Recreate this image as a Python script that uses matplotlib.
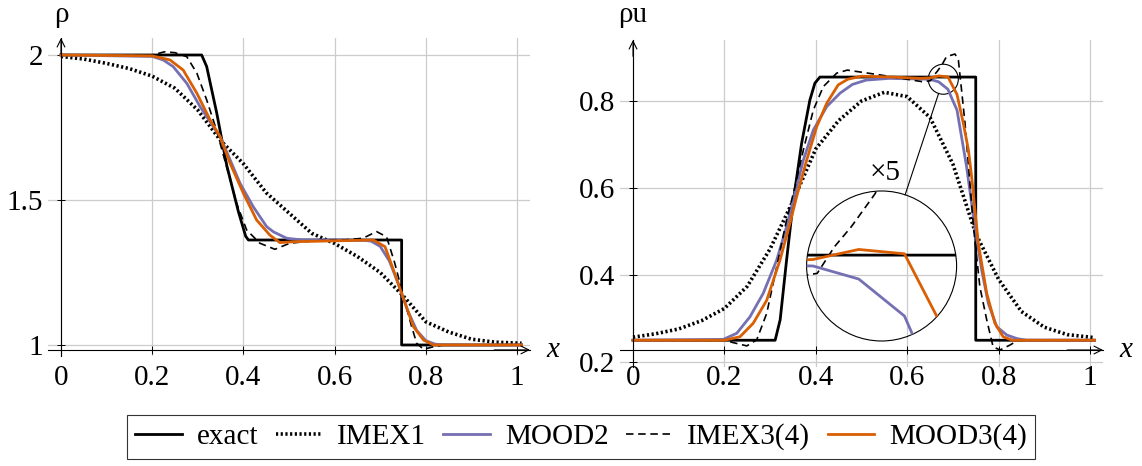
import numpy as np
import matplotlib
matplotlib.use("Agg")
import matplotlib.pyplot as plt
import matplotlib.transforms as mtransforms
from matplotlib.patches import Ellipse

plt.rcParams['font.family'] = ['Liberation Serif', 'DejaVu Serif']

# ---- density (left panel) ----
x_ex_rho = [0, 0.3085, 0.3195, 0.3415, 0.3634, 0.389, 0.405, 0.411, 0.747, 0.747, 1.01]
rho_ex = [2.0, 2.0, 1.96, 1.80, 1.62, 1.46, 1.375, 1.362, 1.362, 1.0, 1.0]

x_imex1_rho = [0, 0.05, 0.1, 0.15, 0.2, 0.25, 0.3, 0.35, 0.4, 0.45, 0.5, 0.55,
               0.6, 0.65, 0.7, 0.75, 0.8, 0.85, 0.9, 0.95, 1.01]
rho_imex1 = [1.995, 1.986, 1.971, 1.953, 1.927, 1.885, 1.81, 1.705, 1.625, 1.525, 1.455, 1.385,
             1.35, 1.305, 1.25, 1.17, 1.08, 1.045, 1.02, 1.01, 1.006]

x_imex3_rho = [0, 0.2, 0.227, 0.25, 0.276, 0.298, 0.3195, 0.341, 0.363, 0.385, 0.407, 0.436,
               0.469, 0.502, 0.553, 0.62, 0.662, 0.692, 0.714, 0.732, 0.751, 0.769, 0.78,
               0.795, 0.817, 0.84, 1.01]
rho_imex3 = [2.0, 2.0, 2.011, 2.008, 1.994, 1.937, 1.845, 1.741, 1.615, 1.489, 1.397, 1.351,
             1.33, 1.351, 1.359, 1.362, 1.368, 1.391, 1.373, 1.282, 1.167, 1.063, 1.006,
             0.985, 0.994, 1.0, 1.0]

x_mood2_rho = [0, 0.2, 0.224, 0.246, 0.276, 0.305, 0.334, 0.349, 0.371, 0.3925, 0.4215, 0.451,
               0.466, 0.495, 0.53, 0.66, 0.68, 0.70, 0.72, 0.74, 0.76, 0.78, 0.80, 0.82, 0.84, 1.01]
rho_mood2 = [2.0, 1.995, 1.983, 1.96, 1.902, 1.822, 1.753, 1.718, 1.638, 1.558, 1.477, 1.408,
             1.39, 1.368, 1.362, 1.362, 1.358, 1.34, 1.29, 1.21, 1.12, 1.05, 1.015, 1.003, 1.0, 1.0]

x_mood3_rho = [0, 0.2, 0.239, 0.268, 0.298, 0.327, 0.349, 0.371, 0.4, 0.429, 0.458, 0.48, 0.509,
               0.685, 0.7105, 0.729, 0.751, 0.773, 0.795, 0.817, 1.01]
rho_mood3 = [2.0, 1.997, 1.983, 1.948, 1.868, 1.776, 1.718, 1.626, 1.523, 1.431, 1.379, 1.353, 1.356,
             1.362, 1.339, 1.259, 1.16, 1.063, 1.017, 1.0, 1.0]

# ---- momentum (right panel) ----
x_ex_mom = [0, 0.311, 0.322, 0.336, 0.351, 0.369, 0.387, 0.398, 0.409, 0.75, 0.75, 1.01]
mom_ex = [0.25, 0.25, 0.297, 0.434, 0.572, 0.703, 0.802, 0.841, 0.855, 0.855, 0.25, 0.25]

x_imex1_mom = [0, 0.05, 0.1, 0.15, 0.2, 0.25, 0.3, 0.35, 0.4, 0.45, 0.5, 0.55,
               0.6, 0.65, 0.7, 0.75, 0.8, 0.85, 0.9, 0.95, 1.01]
mom_imex1 = [0.257, 0.265, 0.276, 0.295, 0.323, 0.374, 0.46, 0.57, 0.69, 0.755, 0.80, 0.82,
             0.81, 0.762, 0.655, 0.495, 0.39, 0.316, 0.28, 0.263, 0.256]

x_imex3_mom = [0, 0.2, 0.2195, 0.249, 0.2707, 0.2926, 0.3145, 0.336, 0.3545, 0.3727, 0.3945,
               0.4164, 0.4457, 0.469, 0.54, 0.60, 0.635, 0.6508, 0.6584, 0.6657, 0.676, 0.686,
               0.7046, 0.712, 0.719, 0.7265, 0.745, 0.759, 0.774, 0.788, 0.803, 0.825, 0.8425, 1.01]
mom_imex3 = [0.25, 0.25, 0.2445, 0.237, 0.251, 0.312, 0.419, 0.5264, 0.603, 0.687, 0.779,
             0.833, 0.864, 0.871, 0.86, 0.85, 0.844, 0.8466, 0.8589, 0.868, 0.883, 0.902,
             0.908, 0.894, 0.825, 0.749, 0.511, 0.373, 0.297, 0.235, 0.2276, 0.239, 0.25, 0.25]

x_mood2_mom = [0, 0.1976, 0.227, 0.256, 0.285, 0.3145, 0.336, 0.3545, 0.3727, 0.3945, 0.4238,
               0.453, 0.48, 0.51, 0.56, 0.649, 0.669, 0.689, 0.709, 0.73, 0.748, 0.763, 0.7775,
               0.796, 0.818, 0.8396, 0.86, 1.01]
mom_mood2 = [0.25, 0.252, 0.266, 0.304, 0.358, 0.4345, 0.511, 0.588, 0.664, 0.733, 0.787,
             0.818, 0.838, 0.848, 0.852, 0.850, 0.844, 0.827, 0.779, 0.649, 0.511, 0.4115, 0.335,
             0.281, 0.262, 0.254, 0.25, 0.25]

x_mood3_mom = [0, 0.2, 0.234, 0.263, 0.2926, 0.3217, 0.3435, 0.358, 0.38, 0.402, 0.424, 0.449,
               0.47, 0.5, 0.57, 0.628, 0.649, 0.669, 0.689, 0.709, 0.7228, 0.734, 0.741, 0.7556,
               0.774, 0.792, 0.81, 0.83, 1.01]
mom_mood3 = [0.25, 0.25, 0.258, 0.289, 0.342, 0.4345, 0.519, 0.58, 0.664, 0.741, 0.795, 0.837,
             0.85, 0.857, 0.855, 0.852, 0.853, 0.8576, 0.8556, 0.815, 0.749, 0.687, 0.626, 0.473,
             0.358, 0.289, 0.258, 0.25, 0.25]

# zoom circle: small circle on the curve, big circle showing it x5
zoom_src = (0.679, 0.85)
zoom_dst = (0.544, 0.4207)
zoom_mag = 5

purple = '#7570b3'
orange = '#d95f02'
FS = 21

styles = {
    'exact': dict(color='black', lw=2.0, ls='-'),
    'IMEX1': dict(color='black', lw=2.6, ls=(0, (0.6, 0.7))),
    'MOOD2': dict(color=purple, lw=2.0, ls='-'),
    'IMEX3(4)': dict(color='black', lw=1.2, ls=(0, (4.5, 2.8))),
    'MOOD3(4)': dict(color=orange, lw=2.0, ls='-'),
}

fig = plt.figure(figsize=(11.42, 4.66), dpi=100)
W, H = 1142, 466
ax1 = fig.add_axes([48 / W, 1 - 356 / H, 482 / W, 318 / H])
ax2 = fig.add_axes([620 / W, 1 - 367 / H, 483 / W, 327 / H])


def setup(ax, ylim, yticks, yticklabels, xbase, ylab):
    ax.set_xlim(-0.0285, 1.0285)
    ax.set_ylim(*ylim)
    ax.set_xticks([0, 0.2, 0.4, 0.6, 0.8, 1])
    ax.set_xticklabels(['0', '0.2', '0.4', '0.6', '0.8', '1'])
    ax.set_yticks(yticks)
    ax.set_yticklabels(yticklabels)
    ax.grid(True, color='#cccccc', lw=0.9)
    ax.set_axisbelow(True)
    for s in ['top', 'right']:
        ax.spines[s].set_visible(False)
    ax.spines['left'].set_position(('data', 0))
    ax.spines['bottom'].set_position(('data', xbase))
    ax.spines['left'].set_linewidth(0.8)
    ax.spines['bottom'].set_linewidth(0.8)
    ax.tick_params(direction='inout', length=6, width=0.7, labelsize=FS, pad=4)
    ax.tick_params(axis='x', pad=8)
    ax.tick_params(axis='y', pad=10)
    # arrow heads
    ax.annotate('', xy=(1.0285, xbase), xytext=(0.95, xbase),
                arrowprops=dict(arrowstyle='->', lw=0.8, color='black',
                                mutation_scale=14, shrinkA=0, shrinkB=0), annotation_clip=False)
    ax.annotate('', xy=(0, ylim[1]), xytext=(0, ylim[1] - 0.05 * (ylim[1] - ylim[0])),
                arrowprops=dict(arrowstyle='->', lw=0.8, color='black',
                                mutation_scale=14, shrinkA=0, shrinkB=0), annotation_clip=False)
    ax.text(1.078, xbase, 'x', fontsize=FS, style='italic', ha='center', va='center',
            clip_on=False)
    tr = mtransforms.blended_transform_factory(ax.transData, fig.transFigure)
    ax.text(0, 1 - 15 / H, ylab, fontsize=FS, ha='center', va='center', transform=tr)


setup(ax1, (0.962, 2.0586), [1, 1.5, 2], ['1', '1.5', '2'], 0.983, 'ρ')
setup(ax2, (0.1885, 0.9402), [0.2, 0.4, 0.6, 0.8], ['0.2', '0.4', '0.6', '0.8'], 0.2276, 'ρu')

left_data = [('exact', x_ex_rho, rho_ex), ('IMEX1', x_imex1_rho, rho_imex1),
             ('MOOD2', x_mood2_rho, rho_mood2), ('IMEX3(4)', x_imex3_rho, rho_imex3),
             ('MOOD3(4)', x_mood3_rho, rho_mood3)]
right_data = [('exact', x_ex_mom, mom_ex), ('IMEX1', x_imex1_mom, mom_imex1),
              ('MOOD2', x_mood2_mom, mom_mood2), ('IMEX3(4)', x_imex3_mom, mom_imex3),
              ('MOOD3(4)', x_mood3_mom, mom_mood3)]

handles = []
for name, xs, ys in left_data:
    ln, = ax1.plot(xs, ys, label=name, solid_joinstyle='round', **styles[name])
    handles.append(ln)
for name, xs, ys in right_data:
    ax2.plot(xs, ys, solid_joinstyle='round', **styles[name])

# zoom circles (sizes in pixels converted to data units)
px_x = 483 / (1.0285 + 0.0285)
px_y = 327 / (0.9402 - 0.1885)
r_small, r_big = 15, 75
ax2.add_patch(Ellipse(zoom_src, 2 * r_small / px_x, 2 * r_small / px_y, fill=False, lw=0.8, ec='black'))
ax2.add_patch(Ellipse(zoom_dst, 2 * r_big / px_x, 2 * r_big / px_y, fill=False, lw=0.8, ec='black'))
clip = Ellipse(zoom_dst, 2 * r_big / px_x, 2 * r_big / px_y, transform=ax2.transData)

for name, xs, ys in right_data:
    if name == 'IMEX1':
        continue
    mx = zoom_dst[0] + zoom_mag * (np.asarray(xs) - zoom_src[0])
    my = zoom_dst[1] + zoom_mag * (np.asarray(ys) - zoom_src[1])
    ln, = ax2.plot(mx, my, **styles[name])
    ln.set_clip_path(clip)

# connecting line between circles
dxp = (zoom_dst[0] - zoom_src[0]) * px_x
dyp = (zoom_dst[1] - zoom_src[1]) * px_y
L = np.hypot(dxp, dyp)
ux, uy = dxp / L, dyp / L
p0 = (zoom_src[0] + r_small * ux / px_x, zoom_src[1] + r_small * uy / px_y)
p1 = (zoom_dst[0] - r_big * ux / px_x, zoom_dst[1] - r_big * uy / px_y)
ax2.plot([p0[0], p1[0]], [p0[1], p1[1]], color='black', lw=0.8)
ax2.text(0.551, 0.6345, '×5', fontsize=FS, ha='center', va='center')

leg = fig.legend(handles=handles, loc='center', bbox_to_anchor=(581 / W, 1 - 437 / H), ncol=5,
                 fontsize=FS, frameon=True, fancybox=False, handlelength=1.6, handletextpad=0.5,
                 columnspacing=0.6, borderpad=0.3)
leg.get_frame().set_edgecolor('black')
leg.get_frame().set_linewidth(0.8)

fig.savefig('out.png', dpi=100)
